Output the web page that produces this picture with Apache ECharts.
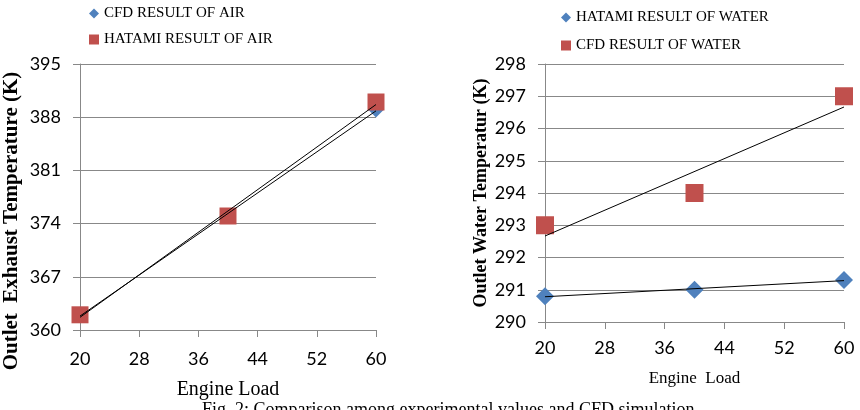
<!DOCTYPE html>
<html>
<head>
<meta charset="utf-8">
<script src="https://cdn.jsdelivr.net/npm/echarts@6/dist/echarts.min.js"></script>
<style>
  html, body { margin: 0; padding: 0; background: #fff; }
  #main { width: 860px; height: 410px; }
</style>
</head>
<body>
<div id="main"></div>
<script>
// engine load (x) for every series
const loads = [20, 40, 60]
// left chart: outlet exhaust temperature (K)
const cfdAir = [362, 375, 389]
const hatamiAir = [362, 375, 390]
// right chart: outlet water temperature (K)
const hatamiWater = [290.8, 291.0, 291.3]
const cfdWater = [293, 294, 297]
// tick labels
const loadTicks = [20, 28, 36, 44, 52, 60]
const airTicks = [360, 367, 374, 381, 388, 395]
const waterTicks = [290, 291, 292, 293, 294, 295, 296, 297, 298]

const BLUE = '#4f81bd'
const RED = '#c0504d'
const GRID = '#888888'
const SANS = 'Lato'
const SERIF = 'Liberation Serif'

// linear trendline (least squares), drawn from first to last load
const trend = (xs, ys) => {
  const n = xs.length
  const mx = xs.reduce((a, b) => a + b, 0) / n
  const my = ys.reduce((a, b) => a + b, 0) / n
  let sxy = 0, sxx = 0
  xs.forEach((x, i) => { sxy += (x - mx) * (ys[i] - my); sxx += (x - mx) * (x - mx) })
  const k = sxy / sxx
  const x0 = xs[0], x1 = xs[n - 1]
  return [[x0, my + k * (x0 - mx)], [x1, my + k * (x1 - mx)]]
}
const pts = (ys) => loads.map((x, i) => [x, ys[i]])

const xAxisFor = (gridIndex, labelMargin, nameGap, nameSize, name) => ({
  type: 'value',
  gridIndex,
  min: loadTicks[0],
  max: loadTicks[loadTicks.length - 1],
  interval: loadTicks[1] - loadTicks[0],
  name,
  nameLocation: 'middle',
  nameGap,
  nameTextStyle: { fontFamily: SERIF, fontSize: nameSize, color: '#000' },
  axisLine: { show: true, onZero: false, lineStyle: { color: GRID, width: 1 } },
  axisTick: { show: true, inside: false, length: 7, lineStyle: { color: GRID } },
  axisLabel: { fontFamily: SANS, fontSize: 18, color: '#000', margin: labelMargin },
  splitLine: { show: false }
})

const yAxisFor = (gridIndex, ticks, nameGap, nameSize, namePad, name) => ({
  type: 'value',
  gridIndex,
  min: ticks[0],
  max: ticks[ticks.length - 1],
  interval: ticks[1] - ticks[0],
  name,
  nameLocation: 'middle',
  nameGap,
  nameRotate: 90,
  nameTextStyle: {
    fontFamily: SERIF, fontSize: nameSize, fontWeight: 'bold', color: '#000',
    padding: [0, namePad, 0, 0]
  },
  axisLine: { show: true, lineStyle: { color: GRID, width: 1 } },
  axisTick: { show: true, inside: false, length: 7, lineStyle: { color: GRID } },
  axisLabel: { fontFamily: SANS, fontSize: 18, color: '#000', margin: 19 },
  splitLine: { show: true, lineStyle: { color: GRID, width: 1 } }
})

const legendFor = (left, top, gap, names) => ({
  orient: 'vertical',
  left,
  top,
  itemGap: gap,
  itemWidth: 10,
  itemHeight: 10,
  textStyle: { fontFamily: SERIF, fontSize: 15, color: '#000' },
  data: names
})

const lineStyle = { color: '#000', width: 1 }

const chart = echarts.init(document.getElementById('main'))
chart.setOption({
  animation: false,
  backgroundColor: '#fff',
  grid: [
    { left: 79, top: 64, width: 297, height: 266 },
    { left: 545, top: 64, width: 299, height: 258 }
  ],
  legend: [
    legendFor(84, 1, 11, [
      { name: 'CFD RESULT OF AIR', icon: 'diamond' },
      { name: 'HATAMI RESULT OF AIR', icon: 'rect' }
    ]),
    legendFor(556, 5, 13, [
      { name: 'HATAMI RESULT OF WATER', icon: 'diamond' },
      { name: 'CFD RESULT OF WATER', icon: 'rect' }
    ])
  ],
  xAxis: [
    xAxisFor(0, 20, 50, 20, 'Engine Load'),
    xAxisFor(1, 17, 48, 17, 'Engine  Load')
  ],
  yAxis: [
    yAxisFor(0, airTicks, 58, 21, 48, 'Outlet  Exhaust Temperature (K)'),
    yAxisFor(1, waterTicks, 54, 18, 0, 'Outlet Water Temperatur (K)')
  ],
  series: [
    {
      name: 'CFD RESULT OF AIR', type: 'scatter', xAxisIndex: 0, yAxisIndex: 0,
      symbol: 'diamond', symbolSize: 16, itemStyle: { color: BLUE, opacity: 1 }, z: 2,
      data: pts(cfdAir)
    },
    {
      name: 'HATAMI RESULT OF AIR', type: 'scatter', xAxisIndex: 0, yAxisIndex: 0,
      symbol: 'rect', symbolSize: 17, itemStyle: { color: RED, opacity: 1 }, z: 3,
      data: pts(hatamiAir)
    },
    {
      type: 'line', xAxisIndex: 0, yAxisIndex: 0, showSymbol: false, silent: true,
      lineStyle, z: 4, data: trend(loads, cfdAir)
    },
    {
      type: 'line', xAxisIndex: 0, yAxisIndex: 0, showSymbol: false, silent: true,
      lineStyle, z: 4, data: trend(loads, hatamiAir)
    },
    {
      name: 'HATAMI RESULT OF WATER', type: 'scatter', xAxisIndex: 1, yAxisIndex: 1,
      symbol: 'diamond', symbolSize: 18, itemStyle: { color: BLUE, opacity: 1 }, z: 2,
      data: pts(hatamiWater)
    },
    {
      name: 'CFD RESULT OF WATER', type: 'scatter', xAxisIndex: 1, yAxisIndex: 1,
      symbol: 'rect', symbolSize: 18, itemStyle: { color: RED, opacity: 1 }, z: 3,
      data: pts(cfdWater)
    },
    {
      type: 'line', xAxisIndex: 1, yAxisIndex: 1, showSymbol: false, silent: true,
      lineStyle, z: 4, data: trend(loads, hatamiWater)
    },
    {
      type: 'line', xAxisIndex: 1, yAxisIndex: 1, showSymbol: false, silent: true,
      lineStyle, z: 4, data: trend(loads, cfdWater)
    }
  ],
  graphic: [
    {
      type: 'text', left: 202, top: 401,
      style: {
        text: 'Fig. 2: Comparison among experimental values and CFD simulation',
        font: '18px "Liberation Serif"', fill: '#000'
      }
    }
  ]
})

window.onresize = function () {
  chart.resize()
}
</script>
</body>
</html>
